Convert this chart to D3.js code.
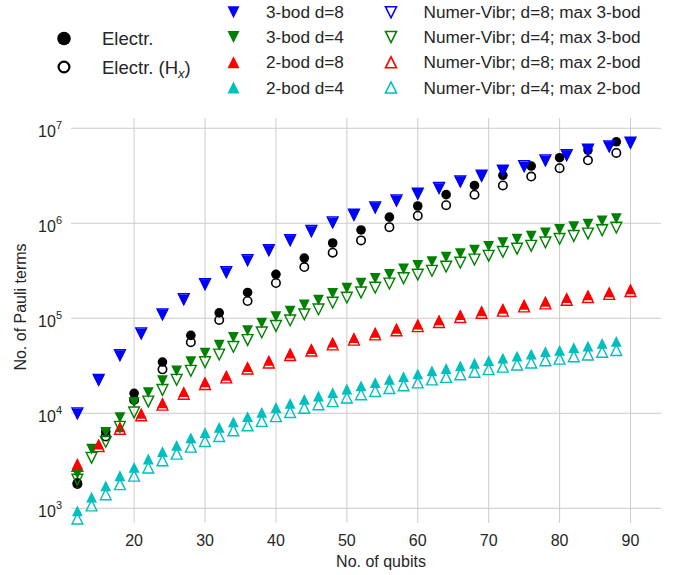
<!DOCTYPE html>
<html><head><meta charset="utf-8">
<script src="https://cdn.jsdelivr.net/npm/d3@7"></script>
<style>body{margin:0;background:#fff}svg{display:block;font-family:"Liberation Sans",Arial,sans-serif}</style>
</head><body><svg id="c" width="674" height="575"></svg>
<script>
const qubits4 = [12,16,20,24,28,32,36,40,44,48,52,56,60,64,68,72,76,80,84,88];
const qubits3 = [12,15,18,21,24,27,30,33,36,39,42,45,48,51,54,57,60,63,66,69,72,75,78,81,84,87,90];
const qubits2 = [12,14,16,18,20,22,24,26,28,30,32,34,36,38,40,42,44,46,48,50,52,54,56,58,60,62,64,66,68,70,72,74,76,78,80,82,84,86,88];

const electr   = [1.85e3,6.4e3,1.62e4,3.46e4,6.6e4,1.14e5,1.87e5,2.9e5,4.3e5,6.2e5,8.5e5,1.16e6,1.52e6,2.0e6,2.5e6,3.2e6,4.0e6,4.9e6,5.9e6,7.2e6];
const electrHx = [1.8e3,5.7e3,1.38e4,2.9e4,5.6e4,9.6e4,1.52e5,2.35e5,3.46e5,4.9e5,6.6e5,9.1e5,1.2e6,1.55e6,2.0e6,2.5e6,3.1e6,3.8e6,4.6e6,5.5e6];

const bod3d8 = [9.8e3,2.2e4,4.0e4,6.8e4,1.08e5,1.55e5,2.24e5,3.0e5,4.0e5,5.1e5,6.5e5,8.1e5,1.0e6,1.2e6,1.44e6,1.7e6,2.0e6,2.3e6,2.7e6,3.1e6,3.5e6,3.9e6,4.5e6,5.1e6,5.8e6,6.3e6,6.9e6];
const numD8max3 = [1.0e4,2.25e4,4.1e4,6.95e4,1.1e5,1.59e5,2.29e5,3.07e5,4.1e5,5.22e5,6.65e5,8.3e5,1.025e6,1.23e6,1.47e6,1.74e6,2.05e6,2.36e6,2.76e6,3.17e6,3.58e6,4.0e6,4.6e6,5.22e6,5.95e6,6.45e6,7.05e6];
const bod3d4 = [2.3e3,4.2e3,6.3e3,9.0e3,1.3e4,1.65e4,2.2e4,2.8e4,3.5e4,4.3e4,5.2e4,6.3e4,7.4e4,8.9e4,1.04e5,1.19e5,1.38e5,1.55e5,1.83e5,2.07e5,2.34e5,2.63e5,2.9e5,3.3e5,3.6e5,3.95e5,4.4e5,4.8e5,5.2e5,5.7e5,6.25e5,6.8e5,7.3e5,7.9e5,8.6e5,9.2e5,9.8e5,1.06e6,1.12e6];
const numD4max3 = [2.0e3,3.4e3,5.0e3,7.2e3,1.02e4,1.33e4,1.76e4,2.25e4,2.8e4,3.45e4,4.15e4,5.0e4,5.9e4,7.1e4,8.3e4,9.5e4,1.1e5,1.24e5,1.46e5,1.65e5,1.87e5,2.1e5,2.32e5,2.64e5,2.88e5,3.16e5,3.5e5,3.85e5,4.15e5,4.55e5,5.0e5,5.4e5,5.8e5,6.3e5,6.85e5,7.35e5,7.8e5,8.45e5,9.0e5];
const bod2d8 = [2.96e3,4.75e3,7.2e3,1.0e4,1.29e4,1.69e4,2.14e4,2.5e4,3.1e4,3.6e4,4.3e4,4.8e4,5.6e4,6.25e4,7.1e4,7.85e4,8.7e4,9.6e4,1.09e5,1.2e5,1.27e5,1.4e5,1.51e5,1.65e5,1.76e5,1.9e5,2.04e5];
const numD8max2 = [2.8e3,4.5e3,6.85e3,9.5e3,1.23e4,1.6e4,2.03e4,2.38e4,2.95e4,3.42e4,4.1e4,4.56e4,5.3e4,5.95e4,6.75e4,7.45e4,8.25e4,9.1e4,1.03e5,1.14e5,1.2e5,1.33e5,1.43e5,1.56e5,1.67e5,1.8e5,1.93e5];
const bod2d4 = [9.4e2,1.31e3,1.72e3,2.2e3,2.7e3,3.3e3,3.95e3,4.6e3,5.5e3,6.25e3,7.1e3,8.1e3,9.2e3,1.02e4,1.15e4,1.27e4,1.4e4,1.52e4,1.65e4,1.8e4,1.94e4,2.1e4,2.27e4,2.43e4,2.6e4,2.8e4,2.96e4,3.16e4,3.36e4,3.58e4,3.8e4,4.0e4,4.2e4,4.45e4,4.6e4,4.9e4,5.1e4,5.45e4,5.7e4];
const numD4max2 = [7.8e2,1.07e3,1.4e3,1.79e3,2.2e3,2.68e3,3.2e3,3.75e3,4.45e3,5.1e3,5.75e3,6.6e3,7.45e3,8.3e3,9.3e3,1.03e4,1.14e4,1.24e4,1.34e4,1.46e4,1.58e4,1.71e4,1.84e4,1.97e4,2.11e4,2.27e4,2.41e4,2.57e4,2.73e4,2.91e4,3.09e4,3.25e4,3.41e4,3.61e4,3.75e4,3.98e4,4.15e4,4.43e4,4.63e4];

const xTicks = [20,30,40,50,60,70,80,90];
const yTicks = [1e3,1e4,1e5,1e6,1e7];

const svg = d3.select("#c");
const L=71, R=661, T=118, B=523;
const x = d3.scaleLinear().domain([11.1,94.3]).range([L,R]);
const y = d3.scaleLog().domain([Math.pow(10,2.845),Math.pow(10,7.108)]).range([B,T]);
const txt = "#262626", grid = "#cccccc";

svg.append("g").selectAll("line").data(xTicks).join("line")
  .attr("x1",d=>x(d)).attr("x2",d=>x(d)).attr("y1",T).attr("y2",B)
  .attr("stroke",grid).attr("stroke-width",1);
svg.append("g").selectAll("line").data(yTicks).join("line")
  .attr("x1",L).attr("x2",R).attr("y1",d=>y(d)).attr("y2",d=>y(d))
  .attr("stroke",grid).attr("stroke-width",1);

svg.append("g").selectAll("text").data(xTicks).join("text")
  .attr("x",d=>x(d)).attr("y",546).attr("text-anchor","middle")
  .attr("font-size",16).attr("fill",txt).text(d=>d);
const yl = svg.append("g").selectAll("text").data(yTicks).join("text")
  .attr("x",62).attr("y",d=>y(d)+8.5).attr("text-anchor","end")
  .attr("font-size",16).attr("fill",txt);
yl.append("tspan").text("10");
yl.append("tspan").attr("font-size",11).attr("dy",-8).text(d=>Math.round(Math.log10(d)));

svg.append("text").attr("x",381).attr("y",567).attr("text-anchor","middle")
  .attr("font-size",16).attr("fill",txt).text("No. of qubits");
svg.append("text").attr("transform","translate(26,307) rotate(-90)")
  .attr("text-anchor","middle").attr("font-size",16).attr("fill",txt).text("No. of Pauli terms");

const triD = s=>`M${-s},${-s}L${s},${-s}L0,${s}Z`;
const triU = s=>`M${-s},${s}L${s},${s}L0,${-s}Z`;
const S=5.4;

function circles(xs, vs, filled, col){
  svg.append("g").selectAll("circle").data(xs).join("circle")
    .attr("cx",d=>x(d)).attr("cy",(d,i)=>y(vs[i])).attr("r",filled?4.8:4.2)
    .attr("fill",filled?col:"none").attr("stroke",col).attr("stroke-width",filled?0:1.6);
}
function tris(xs, vs, path, filled, col){
  svg.append("g").selectAll("path").data(xs).join("path")
    .attr("transform",(d,i)=>`translate(${x(d)},${y(vs[i])})`).attr("d",path)
    .attr("fill",filled?col:"none").attr("stroke",col)
    .attr("stroke-width",filled?0:1.4).attr("stroke-linejoin","miter");
}
const cB="#0000ff", cG="#008000", cR="#ff0000", cC="#00bfbf";

circles(qubits4, electrHx, false, "#000");
circles(qubits4, electr, true, "#000");
tris(qubits3, numD8max3, triD(S), false, cB);
tris(qubits3, numD8max2, triU(S), false, cR);
tris(qubits3, bod3d8, triD(S+0.3), true, cB);
tris(qubits2, bod3d4, triD(S), true, cG);
tris(qubits3, bod2d8, triU(S), true, cR);
tris(qubits2, bod2d4, triU(S), true, cC);
tris(qubits2, numD4max3, triD(S), false, cG);
tris(qubits2, numD4max2, triU(S), false, cC);

const lg = svg.append("g").attr("fill",txt);
lg.append("circle").attr("cx",64).attr("cy",38.5).attr("r",6.8).attr("fill","#000");
lg.append("circle").attr("cx",64).attr("cy",67).attr("r",5.4).attr("fill","none").attr("stroke","#000").attr("stroke-width",2.2);
lg.append("text").attr("x",102).attr("y",38.5+6.7).attr("font-size",18.5).text("Electr.");
const hx = lg.append("text").attr("x",102).attr("y",67+6.7).attr("font-size",18.5).text("Electr. (H");
hx.append("tspan").attr("font-size",13).attr("font-style","italic").attr("dy",4.5).text("x");
hx.append("tspan").attr("dy",-4.5).text(")");

const rows=[12.3,37,62.3,87.5];
const mid=[[triD,cB,"3-bod d=8"],[triD,cG,"3-bod d=4"],[triU,cR,"2-bod d=8"],[triU,cC,"2-bod d=4"]];
const rgt=[[triD,cB,"Numer-Vibr; d=8; max 3-bod"],[triD,cG,"Numer-Vibr; d=4; max 3-bod"],[triU,cR,"Numer-Vibr; d=8; max 2-bod"],[triU,cC,"Numer-Vibr; d=4; max 2-bod"]];
mid.forEach((m,i)=>{
  lg.append("path").attr("transform",`translate(233.5,${rows[i]})`).attr("d",m[0](6)).attr("fill",m[1]);
  lg.append("text").attr("x",266).attr("y",rows[i]+6).attr("font-size",17.2).text(m[2]);
});
rgt.forEach((m,i)=>{
  lg.append("path").attr("transform",`translate(391,${rows[i]})`).attr("d",m[0](5.5)).attr("fill","none")
    .attr("stroke",m[1]).attr("stroke-width",1.6);
  lg.append("text").attr("x",423.5).attr("y",rows[i]+6).attr("font-size",17.2).text(m[2]);
});
</script></body></html>
